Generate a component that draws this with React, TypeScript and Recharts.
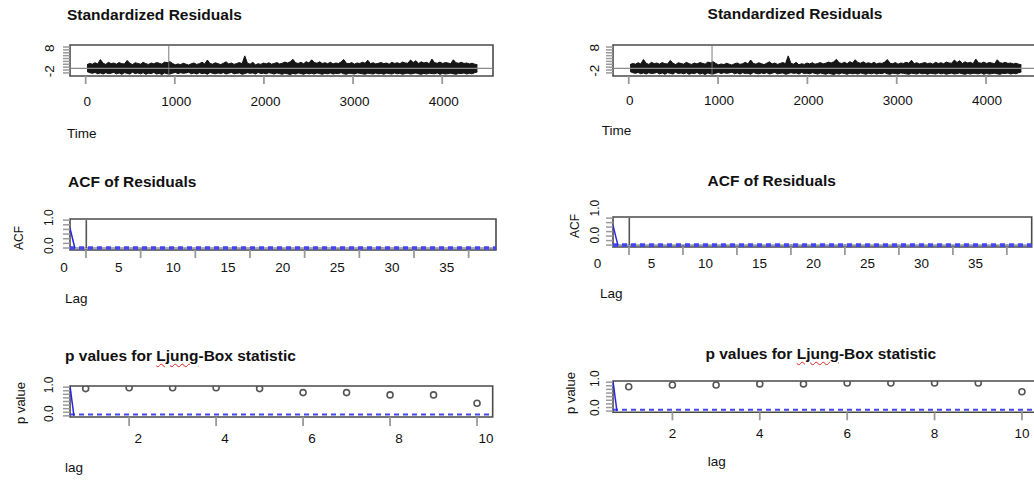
import React from "react";
import {
  Area,
  Bar,
  Cell,
  ComposedChart,
  Line,
  ReferenceArea,
  ReferenceLine,
  XAxis,
  YAxis,
} from "recharts";

const FONT = '"Liberation Sans", Arial, Helvetica, sans-serif';
const BLUE = "#4646ee";

// standardized residuals, read as the envelope of the type-h lines in bins of 30 steps
const resBin = 30;
const resHigh = [
  1.6, 2.1, 1.8, 2.4, 1.9, 3.8, 2.2, 1.7, 2.6, 2.0,
  2.3, 1.8, 2.5, 2.0, 1.9, 3.4, 2.2, 1.6, 2.4, 2.1,
  1.8, 2.6, 2.0, 1.7, 2.3, 1.9, 2.5, 2.2, 1.8, 2.7,
  2.4, 2.9, 2.1, 1.5, 1.9, 1.6, 2.2, 1.8, 1.4, 2.0,
  2.3, 1.7, 2.0, 2.6, 1.9, 3.6, 2.1, 1.8, 2.4, 2.0,
  1.6, 2.2, 2.8, 1.9, 2.3, 1.7, 2.1, 2.5, 2.0, 5.4,
  2.2, 1.8, 2.6, 1.5, 2.0, 1.7, 2.3, 1.9, 2.4, 1.8,
  2.1, 2.5, 1.9, 2.2, 2.7, 2.3, 2.8, 3.9, 2.4, 2.1,
  2.6, 2.0, 2.9, 2.3, 3.7, 2.5, 2.2, 2.8, 2.1, 2.4,
  2.0, 2.6, 1.9, 2.3, 2.1, 2.7, 3.8, 2.2, 2.0, 2.5,
  1.8, 2.3, 2.1, 2.6, 2.2, 3.5, 2.0, 2.4, 1.9, 2.2,
  2.5, 2.0, 2.3, 1.8, 2.6, 2.1, 2.4, 2.0, 2.7, 2.3,
  2.2, 3.6, 2.5, 3.3, 2.1, 2.8, 2.3, 2.6, 2.0, 4.0,
  2.4, 2.2, 2.7, 2.1, 2.5, 2.3, 2.0, 3.7, 2.4, 2.2,
  2.6, 2.1, 2.3, 1.9, 2.2, 1.8, 1.5,
];
const resLow = [
  -1.4, -1.9, -2.2, -1.8, -2.4, -2.0, -2.5, -1.9, -2.3, -2.1,
  -1.8, -2.4, -2.0, -2.6, -1.9, -2.2, -2.5, -1.7, -2.3, -2.0,
  -2.4, -1.9, -2.6, -2.1, -2.3, -1.8, -2.5, -2.2, -2.7, -2.0,
  -2.4, -2.5, -2.1, -1.8, -2.3, -1.9, -2.2, -2.0, -1.7, -2.4,
  -2.0, -2.5, -1.9, -2.3, -2.1, -2.6, -1.8, -2.2, -2.4, -2.0,
  -2.3, -1.9, -2.5, -2.1, -1.8, -2.4, -2.2, -2.0, -2.6, -2.3,
  -1.9, -2.2, -2.0, -2.5, -1.8, -2.3, -2.1, -2.4, -1.9, -2.2,
  -2.5, -2.0, -2.3, -2.6, -2.1, -2.4, -2.7, -2.2, -2.5, -2.0,
  -2.3, -2.6, -2.1, -2.4, -2.2, -2.5, -2.0, -2.3, -2.6, -2.1,
  -2.4, -2.0, -2.5, -2.2, -2.3, -1.9, -2.4, -2.6, -2.1, -2.3,
  -2.5, -2.0, -2.2, -2.4, -2.6, -2.1, -2.3, -2.5, -2.0, -2.4,
  -2.2, -2.6, -2.1, -2.3, -2.5, -2.0, -2.4, -2.2, -2.6, -2.3,
  -2.1, -2.5, -2.3, -2.0, -2.4, -2.6, -2.2, -2.5, -2.1, -2.3,
  -2.4, -2.0, -2.6, -2.2, -2.5, -2.3, -2.1, -2.4, -2.6, -2.2,
  -2.3, -2.0, -2.5, -2.2, -2.4, -1.9, -1.6,
];
// the single huge residual near t = 933, drawn across the whole box
const outlierTime = 933;
const outlierRange = [-3.35, 10.1];
const timeTicks = [0, 1000, 2000, 3000, 4000];
const resYTicks = [-2, -0.75, 0.5, 1.75, 3, 4.25, 5.5, 6.75, 8, 9.25];

// ACF of residuals
const acfLags = [
  0, 1, 2, 3, 4, 5, 6, 7, 8, 9, 10, 11, 12, 13, 14, 15, 16, 17, 18,
  19, 20, 21, 22, 23, 24, 25, 26, 27, 28, 29, 30, 31, 32, 33, 34, 35, 36, 37,
];
const acfValues = [
  1, 0.012, -0.008, 0.015, 0.004, -0.011, 0.009, -0.005, 0.013, -0.009,
  0.006, 0.01, -0.012, 0.003, -0.007, 0.011, -0.004, 0.008, -0.01, 0.005,
  0.014, -0.006, 0.009, -0.013, 0.002, 0.007, -0.009, 0.012, -0.003, 0.006,
  -0.008, 0.01, -0.005, 0.004, -0.011, 0.008, 0.003, -0.006,
];
const acfBound = 0.03;
const lagTicks = [0, 5, 10, 15, 20, 25, 30, 35];
const unitTicks = [0, 0.167, 0.333, 0.5, 0.667, 0.833, 1];
const acfTraceLeft = { lag: [-1.46, -1.01], value: [0.71, -0.01] };
const acfTraceRight = { lag: [-1.48, -1.02], value: [0.73, -0.01] };

// Ljung-Box p values
const pLags = [1, 2, 3, 4, 5, 6, 7, 8, 9, 10];
const pLeft = [0.95, 0.98, 0.98, 0.98, 0.95, 0.81, 0.81, 0.73, 0.73, 0.44];
const pRight = [0.84, 0.9, 0.9, 0.94, 0.94, 0.97, 0.97, 0.97, 0.97, 0.67];
const pLagTicks = [2, 4, 6, 8, 10];
const pYTicks = [0, 0.125, 0.25, 0.375, 0.5, 0.625, 0.75, 0.875, 1];
const pTraceLeft = { lag: [0.64, 0.73], value: [1.04, 0.0] };
const pTraceRight = { lag: [0.64, 0.73], value: [1.04, 0.0] };

const residualRows = [
  ...resHigh.map((h, i) => ({ x: 15 + i * resBin, band: [resLow[i], h] as any, spike: null as any })),
  { x: outlierTime, band: null as any, spike: outlierRange },
].sort((a, b) => a.x - b.x);
const acfRows = acfLags.map((l, i) => ({ x: l, y: acfValues[i] }));
const toRows = (xs: number[], ys: number[]) => xs.map((x, i) => ({ x, y: ys[i] }));

const ML = 60;
const MT = 24;
const MR = 4;
const MB = 40;

function XTick(props: any) {
  const { x, y, payload, len, dx, dy } = props;
  return (
    <g>
      <line x1={x} y1={y} x2={x} y2={y + len} stroke="#9a9a9a" strokeWidth={1.8} />
      <text
        x={x + dx}
        y={y + dy}
        textAnchor="middle"
        dominantBaseline="central"
        fontSize={13.5}
        fontFamily={FONT}
        fill="#111"
      >
        {payload.value}
      </text>
    </g>
  );
}

function YTick(props: any) {
  const { x, y, payload, labels, dx, dy, size } = props;
  const label = labels[String(payload.value)];
  return (
    <g>
      <line x1={x - 7} y1={y} x2={x} y2={y} stroke="#9a9a9a" strokeWidth={1.5} />
      {label && (
        <text
          transform={`translate(${x + dx},${y + dy}) rotate(-90)`}
          textAnchor="middle"
          dominantBaseline="central"
          fontSize={size}
          fontFamily={FONT}
          fill="#111"
        >
          {label}
        </text>
      )}
    </g>
  );
}

type Box = { x: number; y: number; w: number; h: number };

function Panel(props: {
  box: Box;
  data?: any[];
  xDomain: [number, number];
  xTicks: number[];
  xTick: { len: number; dx: number; dy: number };
  yDomain: [number, number];
  yTicks: number[];
  yTick: { labels: Record<string, string>; dx: number; dy: number; size: number };
  children?: React.ReactNode;
}) {
  const { box, data, xDomain, xTicks, xTick, yDomain, yTicks, yTick, children } = props;
  return (
    <div style={{ position: "absolute", left: box.x - ML, top: box.y - MT }}>
      <ComposedChart
        width={box.w + ML + MR}
        height={box.h + MT + MB}
        data={data}
        margin={{ top: MT, right: MR, left: 0, bottom: 0 }}
      >
        <XAxis
          type="number"
          dataKey="x"
          domain={xDomain}
          ticks={xTicks}
          allowDataOverflow
          interval={0}
          height={MB}
          axisLine={false}
          tickLine={false}
          tickSize={0}
          tickMargin={0}
          tick={<XTick {...xTick} />}
        />
        <YAxis
          type="number"
          domain={yDomain}
          ticks={yTicks}
          allowDataOverflow
          interval={0}
          width={ML}
          axisLine={false}
          tickLine={false}
          tickSize={0}
          tickMargin={0}
          tick={<YTick {...yTick} />}
        />
        {children}
        <ReferenceArea
          x1={xDomain[0]}
          x2={xDomain[1]}
          y1={yDomain[0]}
          y2={yDomain[1]}
          fill="none"
          fillOpacity={0}
          stroke="#4a4a4a"
          strokeWidth={1.6}
          ifOverflow="visible"
        />
      </ComposedChart>
    </div>
  );
}

function Text({ x, y, size = 13.5, bold = false, center = false, children }: any) {
  return (
    <div
      style={{
        position: "absolute",
        left: x,
        top: y - 0.85 * size,
        fontSize: size,
        lineHeight: `${size}px`,
        fontWeight: bold ? 700 : 400,
        whiteSpace: "nowrap",
        transform: center ? "translateX(-50%)" : undefined,
      }}
    >
      {children}
    </div>
  );
}

function VText({ cx, cy, size = 13.5, children }: any) {
  return (
    <div
      style={{
        position: "absolute",
        left: cx,
        top: cy,
        fontSize: size,
        lineHeight: `${size}px`,
        whiteSpace: "nowrap",
        transform: "translate(-50%, -50%) rotate(-90deg)",
      }}
    >
      {children}
    </div>
  );
}

const ljung = (
  <>
    p values for{" "}
    <span
      style={{
        textDecoration: "underline wavy #e02424",
        textDecorationThickness: "1px",
        textUnderlineOffset: "2px",
      }}
    >
      Ljung
    </span>
    -Box statistic
  </>
);

function ResidualPanel({ box, xTick, yTick }: any) {
  return (
    <Panel
      box={box}
      data={residualRows}
      xDomain={[-176, 4570]}
      xTicks={timeTicks}
      xTick={xTick}
      yDomain={[-3.35, 10.13]}
      yTicks={resYTicks}
      yTick={{ labels: { "-2": "-2", "8": "8" }, size: 13.5, ...yTick }}
    >
      <ReferenceLine y={0} stroke="#8a8a8a" strokeWidth={1.2} />
      <Area
        dataKey="band"
        type="linear"
        connectNulls
        stroke="#111"
        strokeWidth={1}
        fill="#161616"
        fillOpacity={1}
        dot={false}
        activeDot={false}
        isAnimationActive={false}
      />
      <Bar dataKey="spike" barSize={1.6} fill="#777" isAnimationActive={false} />
    </Panel>
  );
}

function AcfPanel({ box, xMax, trace, xTick, yTick }: any) {
  return (
    <Panel
      box={box}
      data={acfRows}
      xDomain={[trace.lag[0], xMax]}
      xTicks={lagTicks}
      xTick={xTick}
      yDomain={[-0.071, 1.041]}
      yTicks={unitTicks}
      yTick={{ labels: { "0": "0.0", "1": "1.0" }, size: 12, ...yTick }}
    >
      <ReferenceLine y={0} stroke="#555" strokeWidth={1} />
      <ReferenceLine y={acfBound} stroke={BLUE} strokeWidth={2} strokeDasharray="5 4" />
      <ReferenceLine y={-acfBound} stroke={BLUE} strokeWidth={2} strokeDasharray="5 4" />
      <Bar dataKey="y" barSize={1.6} isAnimationActive={false}>
        {acfRows.map((r, i) => (
          <Cell key={i} fill={r.x === 0 ? "#555" : "#111"} />
        ))}
      </Bar>
      <Line
        data={toRows(trace.lag, trace.value)}
        dataKey="y"
        stroke="#2626e0"
        strokeWidth={1.5}
        dot={false}
        activeDot={false}
        isAnimationActive={false}
      />
    </Panel>
  );
}

function PPanel({ box, values, trace, xTick, yTick }: any) {
  return (
    <Panel
      box={box}
      data={toRows(pLags, values)}
      xDomain={[0.64, 10.36]}
      xTicks={pLagTicks}
      xTick={xTick}
      yDomain={[-0.04, 1.04]}
      yTicks={pYTicks}
      yTick={{ labels: { "0": "0.0", "1": "1.0" }, size: 12, ...yTick }}
    >
      <ReferenceLine y={0.05} stroke={BLUE} strokeWidth={2} strokeDasharray="5 4" />
      <Line
        dataKey="y"
        stroke="none"
        dot={{ r: 3, stroke: "#555", strokeWidth: 1.6, fill: "none" }}
        activeDot={false}
        isAnimationActive={false}
      />
      <Line
        data={toRows(trace.lag, trace.value)}
        dataKey="y"
        stroke="#2626e0"
        strokeWidth={1.5}
        dot={false}
        activeDot={false}
        isAnimationActive={false}
      />
    </Panel>
  );
}

export default function App() {
  return (
    <div
      style={{
        position: "absolute",
        left: 0,
        top: 0,
        width: 1034,
        height: 480,
        overflow: "hidden",
        background: "#fff",
        fontFamily: FONT,
        color: "#111",
      }}
    >
      {/* left column */}
      <Text x={67} y={20} size={15.5} bold>Standardized Residuals</Text>
      <ResidualPanel
        box={{ x: 70, y: 45, w: 423, h: 31 }}
        xTick={{ len: 8, dx: 1.5, dy: 25.7 }}
        yTick={{ dx: -20.7, dy: -1.7 }}
      />
      <Text x={67} y={138}>Time</Text>

      <Text x={68} y={187.5} size={15.5} bold>ACF of Residuals</Text>
      <AcfPanel
        box={{ x: 70, y: 219, w: 426, h: 31 }}
        xMax={37.5}
        trace={acfTraceLeft}
        xTick={{ len: 8, dx: -22, dy: 17.7 }}
        yTick={{ dx: -21, dy: -2.4 }}
      />
      <VText cx={19} cy={237.5} size={12}>ACF</VText>
      <Text x={65} y={303}>Lag</Text>

      <Text x={65} y={361} size={15.5} bold>{ljung}</Text>
      <PPanel
        box={{ x: 70, y: 385.7, w: 422.7, h: 31 }}
        values={pLeft}
        trace={pTraceLeft}
        xTick={{ len: 9, dx: 9, dy: 21.6 }}
        yTick={{ dx: -21, dy: -2.3 }}
      />
      <VText cx={20} cy={402.5} size={13}>p value</VText>
      <Text x={65} y={472}>lag</Text>

      {/* right column */}
      <Text x={795} y={19.5} size={15.5} bold center>Standardized Residuals</Text>
      <ResidualPanel
        box={{ x: 613.3, y: 45, w: 424, h: 31 }}
        xTick={{ len: 8, dx: 1, dy: 24.3 }}
        yTick={{ dx: -19, dy: -2.2 }}
      />
      <Text x={601.7} y={135}>Time</Text>

      <Text x={771.7} y={186} size={15.5} bold center>ACF of Residuals</Text>
      <AcfPanel
        box={{ x: 613.3, y: 217, w: 418.7, h: 30 }}
        xMax={37.3}
        trace={acfTraceRight}
        xTick={{ len: 8, dx: -31.4, dy: 16.3 }}
        yTick={{ dx: -18.3, dy: -10 }}
      />
      <VText cx={575} cy={226} size={12}>ACF</VText>
      <Text x={600} y={298}>Lag</Text>

      <Text x={820.8} y={359} size={15.5} bold center>{ljung}</Text>
      <PPanel
        box={{ x: 613.3, y: 381, w: 424.7, h: 31.3 }}
        values={pRight}
        trace={pTraceRight}
        xTick={{ len: 8, dx: 0, dy: 21 }}
        yTick={{ dx: -17.6, dy: -3.4 }}
      />
      <VText cx={570} cy={392.5} size={13}>p value</VText>
      <Text x={707.7} y={466}>lag</Text>
    </div>
  );
}
